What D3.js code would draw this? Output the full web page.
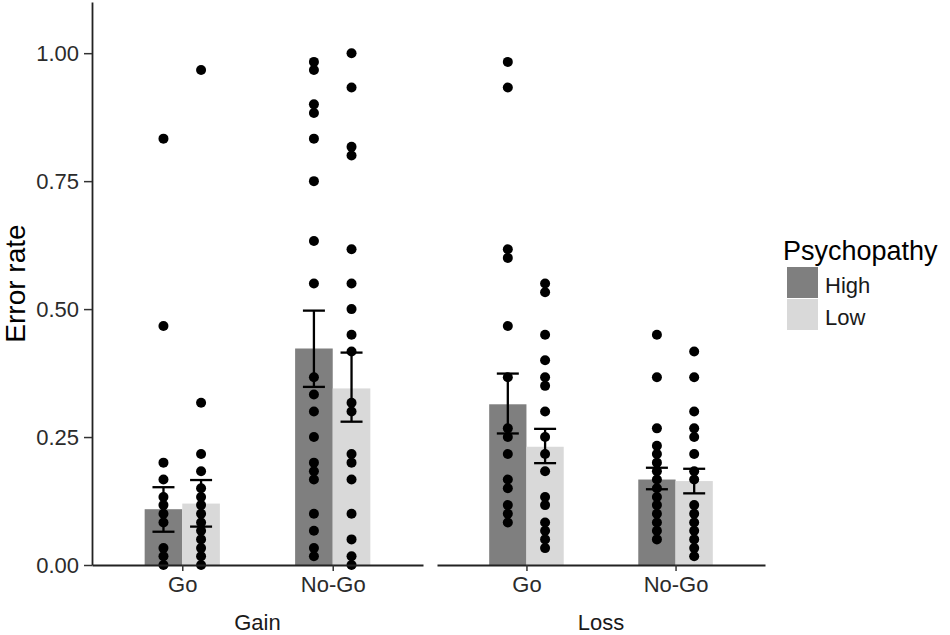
<!DOCTYPE html>
<html>
<head>
<meta charset="utf-8">
<script src="https://cdn.jsdelivr.net/npm/d3@7"></script>
<style>
	body { margin: 0; background: #fff; }
	svg { display: block; font-family: "Liberation Sans", Arial, sans-serif; }
</style>
</head>
<body>
<div id="chart"></div>
<script>

// Data
var facets = ["Gain", "Loss"];
var conditions = ["Go", "No-Go"];
var groups = ["High", "Low"];
var yTicks = [0, 0.25, 0.5, 0.75, 1.0];

// cells in order: Gain Go, Gain No-Go, Loss Go, Loss No-Go
var meanHigh  = [0.109, 0.423, 0.314, 0.167];
var lowerHigh = [0.065, 0.348, 0.257, 0.148];
var upperHigh = [0.152, 0.497, 0.374, 0.190];

var meanLow  = [0.120, 0.345, 0.231, 0.164];
var lowerLow = [0.075, 0.280, 0.199, 0.140];
var upperLow = [0.166, 0.415, 0.266, 0.188];

var pointsHigh = [
	[0.833, 0.467, 0.2, 0.167, 0.133, 0.117, 0.1, 0.083, 0.033, 0.017, 0],
	[0.983, 0.967, 0.9, 0.883, 0.833, 0.75, 0.633, 0.55, 0.367, 0.333, 0.3, 0.25, 0.2, 0.183, 0.167, 0.1, 0.067, 0.033, 0.017],
	[0.983, 0.933, 0.617, 0.6, 0.467, 0.367, 0.267, 0.25, 0.217, 0.167, 0.15, 0.117, 0.1, 0.083],
	[0.45, 0.367, 0.267, 0.233, 0.217, 0.2, 0.183, 0.167, 0.15, 0.133, 0.117, 0.1, 0.083, 0.067, 0.05]
];

var pointsLow = [
	[0.967, 0.317, 0.217, 0.183, 0.15, 0.133, 0.117, 0.1, 0.083, 0.067, 0.05, 0.033, 0.017, 0],
	[1.0, 0.933, 0.817, 0.8, 0.617, 0.55, 0.5, 0.45, 0.417, 0.317, 0.3, 0.217, 0.2, 0.167, 0.1, 0.05, 0.017, 0],
	[0.55, 0.533, 0.45, 0.4, 0.367, 0.35, 0.3, 0.25, 0.217, 0.183, 0.133, 0.117, 0.083, 0.067, 0.05, 0.033],
	[0.417, 0.367, 0.3, 0.267, 0.25, 0.217, 0.183, 0.167, 0.117, 0.1, 0.083, 0.067, 0.05, 0.033, 0.017]
];

// Drawing parameters
var width = 950, height = 635;
var panelTop = 2, panelBottom = 565;
var panelX = [92, 437];
var panelW = [331, 328];
var fillColor = { "High": "#7f7f7f", "Low": "#d9d9d9" };
var textColor = "#2b2b2b";
var dotRadius = 5;
var capWidth = 22;

var svg = d3.select("#chart").append("svg")
	.attr("width", width).attr("height", height);

var y = d3.scaleLinear().domain([0, 1.1]).range([panelBottom, panelTop]);

// build cell records from the arrays
var cells = [];
facets.forEach(function(f, fi) {
	conditions.forEach(function(c, ci) {
		var k = fi * 2 + ci;
		cells.push({ facet: f, fi: fi, cond: c, group: "High", mean: meanHigh[k], lo: lowerHigh[k], hi: upperHigh[k], pts: pointsHigh[k] });
		cells.push({ facet: f, fi: fi, cond: c, group: "Low", mean: meanLow[k], lo: lowerLow[k], hi: upperLow[k], pts: pointsLow[k] });
	});
});

facets.forEach(function(f, fi) {

	var x = d3.scalePoint().domain(conditions)
		.range([panelX[fi], panelX[fi] + panelW[fi]]).padding(0.6);
	var xg = d3.scaleBand().domain(groups)
		.range([-0.25 * x.step(), 0.25 * x.step()]);

	var g = svg.append("g");
	var data = cells.filter(function(d) { return d.fi === fi; });
	var cx = function(d) { return x(d.cond) + xg(d.group) + xg.bandwidth() / 2; };

	// bars
	g.selectAll("rect.bar").data(data).enter().append("rect")
		.attr("class", "bar")
		.attr("x", function(d) { return x(d.cond) + xg(d.group); })
		.attr("width", xg.bandwidth())
		.attr("y", function(d) { return y(d.mean); })
		.attr("height", function(d) { return y(0) - y(d.mean); })
		.attr("fill", function(d) { return fillColor[d.group]; });

	// points
	data.forEach(function(d) {
		g.selectAll(null).data(d.pts).enter().append("circle")
			.attr("cx", cx(d))
			.attr("cy", function(v) { return y(v); })
			.attr("r", dotRadius)
			.attr("fill", "black");
	});

	// error bars
	var eb = g.selectAll("g.err").data(data).enter().append("g").attr("class", "err")
		.attr("stroke", "black").attr("stroke-width", 2.3);
	eb.append("line")
		.attr("x1", cx).attr("x2", cx)
		.attr("y1", function(d) { return y(d.lo); })
		.attr("y2", function(d) { return y(d.hi); });
	eb.append("line")
		.attr("x1", function(d) { return cx(d) - capWidth / 2; })
		.attr("x2", function(d) { return cx(d) + capWidth / 2; })
		.attr("y1", function(d) { return y(d.hi); })
		.attr("y2", function(d) { return y(d.hi); });
	eb.append("line")
		.attr("x1", function(d) { return cx(d) - capWidth / 2; })
		.attr("x2", function(d) { return cx(d) + capWidth / 2; })
		.attr("y1", function(d) { return y(d.lo); })
		.attr("y2", function(d) { return y(d.lo); });

	// x axis
	var gx = svg.append("g")
		.attr("transform", "translate(0," + panelBottom + ")")
		.call(d3.axisBottom(x).tickSize(6).tickSizeOuter(0).tickPadding(5));
	gx.select(".domain").attr("stroke", "#222").attr("stroke-width", 1.8);
	gx.selectAll(".tick line").attr("stroke", "#333").attr("stroke-width", 1.5);
	gx.selectAll(".tick text")
		.attr("font-size", 22).attr("fill", textColor)
		.attr("font-family", "Liberation Sans, Arial, sans-serif");

	// facet label below the axis
	svg.append("text")
		.attr("x", panelX[fi] + panelW[fi] / 2)
		.attr("y", 630)
		.attr("text-anchor", "middle")
		.attr("font-size", 22)
		.attr("fill", "#1a1a1a")
		.text(f);
});

// y axis (left panel only)
var gy = svg.append("g")
	.attr("transform", "translate(" + panelX[0] + ",0)")
	.call(d3.axisLeft(y).tickValues(yTicks).tickFormat(d3.format(".2f"))
		.tickSize(8).tickSizeOuter(0).tickPadding(5));
gy.select(".domain").attr("stroke", "#222").attr("stroke-width", 1.8);
gy.selectAll(".tick line").attr("stroke", "#333").attr("stroke-width", 1.5);
gy.selectAll(".tick text")
	.attr("font-size", 22).attr("fill", textColor)
	.attr("font-family", "Liberation Sans, Arial, sans-serif");

svg.append("text")
	.attr("transform", "translate(25," + ((panelTop + panelBottom) / 2) + ") rotate(-90)")
	.attr("text-anchor", "middle")
	.attr("font-size", 28)
	.attr("fill", "black")
	.text("Error rate");

// Legend
var legend = svg.append("g").attr("transform", "translate(787,260)");
legend.append("text")
	.attr("x", -4).attr("y", 0)
	.attr("font-size", 27)
	.attr("fill", "black")
	.text("Psychopathy");

var items = legend.selectAll("g.item").data(groups).enter().append("g")
	.attr("class", "item")
	.attr("transform", function(d, i) { return "translate(0," + (7 + i * 32) + ")"; });
items.append("rect")
	.attr("width", 31).attr("height", 31)
	.attr("fill", function(d) { return fillColor[d]; });
items.append("text")
	.attr("x", 38).attr("y", 26)
	.attr("font-size", 22)
	.attr("fill", "#1a1a1a")
	.text(function(d) { return d; });

</script>
</body>
</html>
